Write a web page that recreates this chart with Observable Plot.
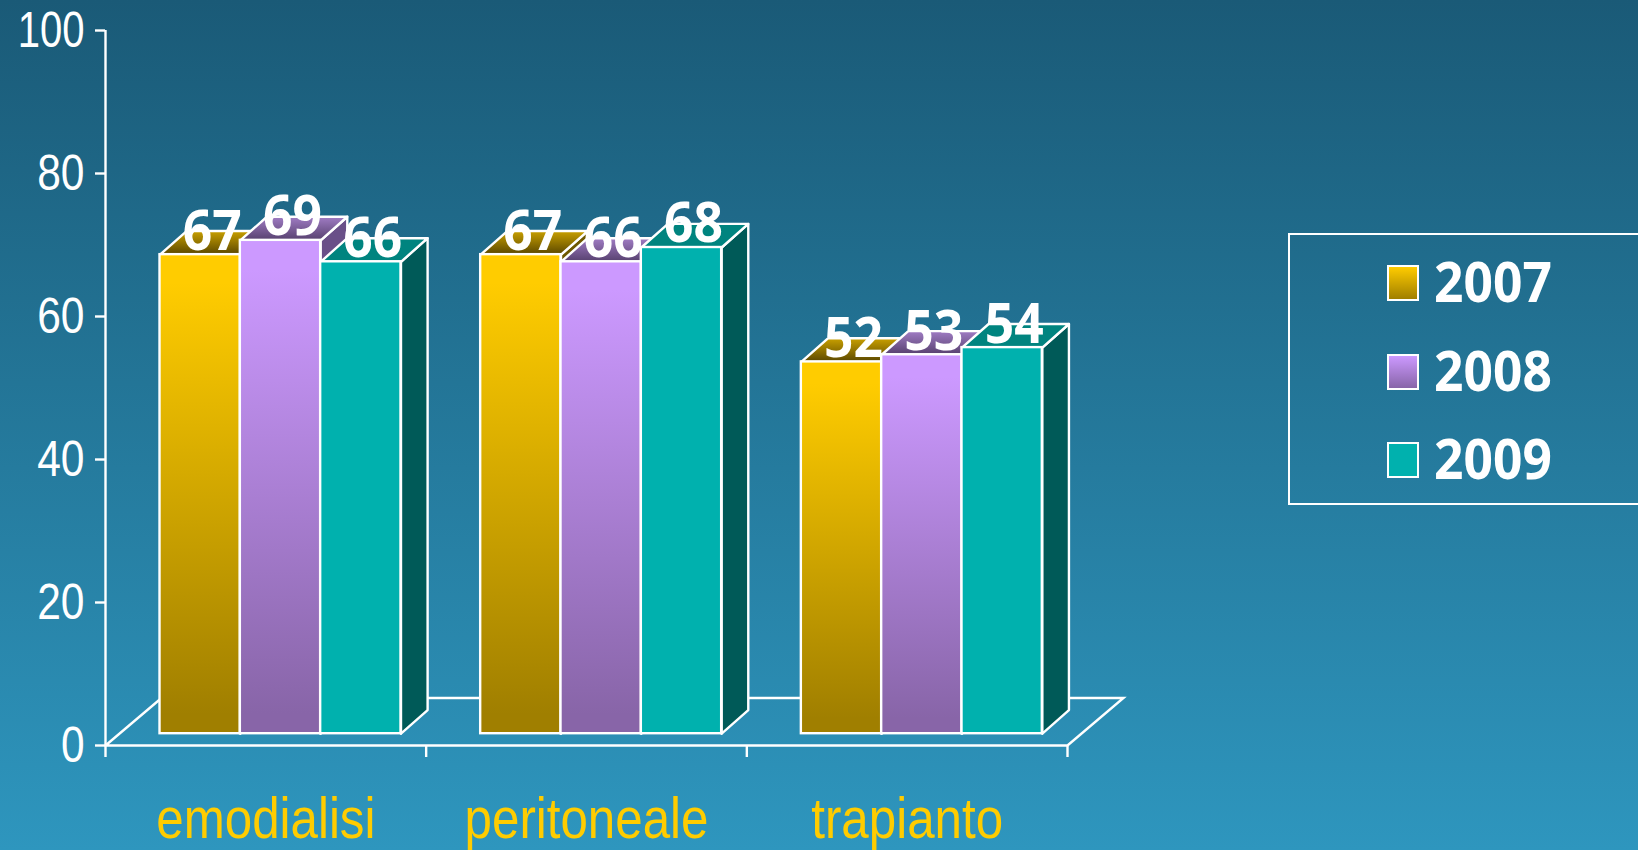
<!DOCTYPE html>
<html><head><meta charset="utf-8">
<script src="https://cdn.jsdelivr.net/npm/d3@7"></script>
<script src="https://cdn.jsdelivr.net/npm/@observablehq/plot@0.6"></script>
<style>
html,body{margin:0;padding:0;width:1638px;height:850px;overflow:hidden;background:linear-gradient(180deg,#1a5a77 0%,#2e96be 100%);}
#wrap{position:relative;width:1638px;height:850px;}
#wrap svg{position:absolute;left:0;top:0;background:transparent;overflow:visible;}
#legend{position:absolute;left:1288px;top:233px;width:350px;height:272px;box-sizing:border-box;border:2px solid #fff;border-right:0;font:bold 56px "Noto Sans",sans-serif;color:#fff;}
.row{position:absolute;left:97px;display:flex;align-items:center;height:36px;}
.sw{width:32px;height:36px;box-sizing:border-box;border:2px solid #fff;margin-right:15px;}
.row span{display:inline-block;transform:translateY(-3px) scaleX(.92);transform-origin:left center;}
</style></head><body><div id="wrap"></div>
<script>
const categories = ["emodialisi", "peritoneale", "trapianto"];
const years = ["2007", "2008", "2009"];
const values2007 = [67, 67, 52];
const values2008 = [69, 66, 53];
const values2009 = [66, 68, 54];
const yTicks = [0, 20, 40, 60, 80, 100];

const seriesValues = [values2007, values2008, values2009];
// box geometry, in scale units
const barWidth = 0.2505, groupInset = 0.17, base = 1.65;
const depthX = 0.083, depthY = 3.3, floorX = 0.1746, floorY = 6.64;

const styles = [
  {front:"url(#g0)", top:"url(#t0)", side:"#6e5800"},
  {front:"url(#g1)", top:"url(#t1)", side:"#694f88"},
  {front:"#00b1ae", top:"#00847f", side:"#005a58"}
];

function grad(id, stops){
  return `<linearGradient id="${id}" x1="0" y1="0" x2="0" y2="1">` + stops.map(([o,c])=>`<stop offset="${o}" stop-color="${c}"/>`).join("") + `</linearGradient>`;
}
const defsMark = () => {
  const d = d3.create("svg:defs");
  d.html(
    grad("g0",[[0,"#ffcc00"],[0.06,"#ffcc00"],[0.96,"#a07f00"],[1,"#a07f00"]])+
    grad("g1",[[0,"#cc99ff"],[0.06,"#cc99ff"],[0.96,"#8865a8"],[1,"#8865a8"]])+
    grad("t0",[[0,"#c9a000"],[1,"#5a4700"]])+
    grad("t1",[[0,"#a07cc4"],[1,"#56406e"]]));
  return d.node();
};

const marks = [defsMark];
const white = {stroke:"#fff", strokeWidth:2.4};

marks.push(Plot.line([[0,0],[floorX,floorY],[3+floorX,floorY],[3,0],[0,0]], {...white, strokeLinejoin:"miter", strokeMiterlimit:4}));

const labels = [];
categories.forEach((c,i)=>{
  years.forEach((yr,j)=>{
    const v = seriesValues[j][i];
    const x1 = i + groupInset + j*barWidth, x2 = x1 + barWidth, y1 = base, y2 = v + base;
    marks.push(Plot.line([[x2,y1],[x2+depthX,y1+depthY],[x2+depthX,y2+depthY],[x2,y2],[x2,y1]], {...white, fill:styles[j].side}));
    marks.push(Plot.line([[x1,y2],[x1+depthX,y2+depthY],[x2+depthX,y2+depthY],[x2,y2],[x1,y2]], {...white, fill:styles[j].top}));
    marks.push(Plot.rect([{x1,x2,y1,y2}], {x1:"x1",x2:"x2",y1:"y1",y2:"y2",...white,fill:styles[j].front}));
    labels.push({x:(x1+x2)/2, y:y2, v});
  });
});
marks.push(Plot.text(labels, {x:"x", y:"y", text:d=>String(d.v), dx:12, dy:-23, fill:"#fff", fontSize:56, fontWeight:"bold", fontFamily:"'Noto Sans',sans-serif"}));

marks.push(Plot.ruleX([0], {y1:0, y2:100, ...white}));
marks.push(Plot.axisY({ticks:yTicks, tickSize:10, tickPadding:11, tickFormat:d=>String(d), label:null, stroke:"#fff", strokeWidth:2.4, fill:"#fff", fontSize:50, fontFamily:"'Liberation Sans',sans-serif"}));
marks.push(Plot.axisX({ticks:[0,1,2,3], tickSize:12, tickFormat:()=>"", label:null, stroke:"#fff", strokeWidth:2.4}));
marks.push(Plot.axisX({ticks:[0.5,1.5,2.5], tickSize:0, tickPadding:51, tickFormat:d=>categories[Math.floor(d)], label:null, fill:"#ffcc00", fontSize:58, fontFamily:"'Liberation Sans',sans-serif"}));

const chart = Plot.plot({
  width:1638, height:850, marginLeft:105, marginRight:571, marginTop:30, marginBottom:105,
  style:{background:"transparent", color:"#fff", overflow:"visible"},
  x:{domain:[0,3]}, y:{domain:[0,100]},
  marks
});
const wrap = document.getElementById("wrap");
wrap.appendChild(chart);

// narrow the glyphs of real text to the reference's condensed proportions
function squeeze(selector, factor){
  chart.querySelectorAll(selector).forEach(t=>{
    const len = t.getComputedTextLength();
    if(!len) return;
    const f = typeof factor === "function" ? factor(t.textContent) : factor;
    t.setAttribute("textLength", (len*f).toFixed(1));
    t.setAttribute("lengthAdjust", "spacingAndGlyphs");
  });
}
squeeze('g[aria-label="y-axis tick label"] text', s=> s.length===3 ? 0.8 : 0.85);
squeeze('g[aria-label="x-axis tick label"] text', 0.85);
squeeze('g[aria-label="text"] text', 0.92);

const legend = document.createElement("div");
legend.id = "legend";
const swatches = ["linear-gradient(#ffcc00,#a07f00)","linear-gradient(#cc99ff,#8865a8)","#00b1ae"];
const rowTops = [30, 119, 207];
years.forEach((yr,j)=>{
  const r = document.createElement("div"); r.className="row"; r.style.top = rowTops[j]+"px";
  const s = document.createElement("div"); s.className="sw"; s.style.background = swatches[j];
  const t = document.createElement("span"); t.textContent = yr;
  r.append(s,t); legend.appendChild(r);
});
wrap.appendChild(legend);
</script></body></html>
